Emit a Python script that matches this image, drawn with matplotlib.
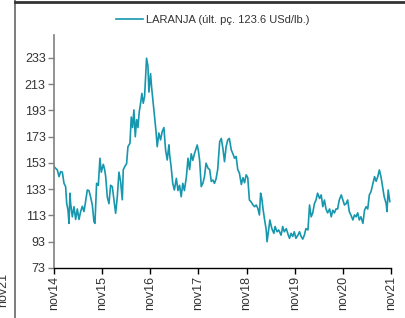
import matplotlib.pyplot as plt
from matplotlib.lines import Line2D

plt.rcParams['font.family'] = ['Liberation Sans', 'DejaVu Sans']

# months elapsed since nov/2014 and price (USd/lb.)
months = [0.0, 0.83, 1.25, 1.66, 2.08, 2.49, 2.9, 3.16, 3.49, 3.74, 3.98, 4.15, 4.57, 4.98,
          5.4, 5.81, 6.23, 6.64, 7.06, 7.47, 7.89, 8.3, 8.72, 9.13, 9.55, 9.96, 10.21, 10.62,
          11.04, 11.45, 11.79, 12.29, 12.62, 12.87, 13.29, 13.7, 14.11, 14.53, 14.94, 15.36,
          15.77, 16.19, 16.6, 17.02, 17.27, 17.6, 18.1, 18.43, 18.93, 19.26, 19.59, 19.92,
          20.26, 20.59, 20.92, 21.25, 21.58, 21.91, 22.24, 22.58, 22.82, 23.07, 23.41, 23.66,
          24.07, 24.32, 24.65, 25.07, 25.4, 25.73, 26.15, 26.56, 26.98, 27.39, 27.81, 28.22,
          28.64, 28.8, 29.2, 29.6, 30.0, 30.5, 30.9, 31.3, 31.7, 32.1, 32.5, 33.0, 33.4, 33.8,
          34.2, 34.6, 35.0, 35.7, 36.0, 36.3, 36.7, 37.1, 37.5, 37.9, 38.4, 38.8, 39.2, 39.6,
          40.0, 40.4, 40.8, 41.3, 41.7, 42.1, 42.5, 42.9, 43.3, 43.7, 44.2, 44.6, 45.0, 45.4,
          45.8, 46.2, 46.7, 47.1, 47.5, 47.9, 48.3, 48.7, 49.1, 49.6, 50.0, 50.4, 50.8, 51.2,
          51.5, 51.8, 52.1, 52.5, 52.9, 53.1, 53.5, 53.8, 54.3, 54.8, 55.1, 55.6, 56.0, 56.6,
          57.0, 57.4, 57.9, 58.4, 58.7, 59.1, 59.5, 59.9, 60.3, 60.8, 61.2, 61.6, 62.0, 62.4,
          62.8, 63.3, 63.7, 64.1, 64.5, 64.9, 65.3, 65.7, 66.2, 66.6, 67.0, 67.4, 67.8, 68.2,
          68.7, 69.1, 69.5, 69.9, 70.3, 70.7, 71.1, 71.6, 72.0, 72.4, 72.8, 73.2, 73.6, 74.0,
          74.5, 74.9, 75.3, 75.7, 76.1, 76.5, 77.0, 77.4, 77.8, 78.2, 78.6, 79.0, 79.4, 79.9,
          80.3, 80.7, 81.1, 81.5, 81.9, 82.3, 82.8, 83.0, 83.3, 83.7]
price = [150.2, 147.7, 142.6, 146.4, 146.0, 137.5, 135.0, 122.3, 117.0, 107.0, 130.0, 122.0,
         112.0, 119.7, 110.0, 118.0, 110.0, 116.0, 120.0, 116.0, 124.0, 132.4, 132.0, 127.0,
         121.0, 108.3, 107.0, 137.5, 136.0, 156.6, 146.0, 152.0, 148.0, 143.0, 127.0, 122.0,
         136.0, 135.0, 125.0, 114.7, 127.0, 146.0, 139.0, 125.0, 148.0, 150.0, 152.6, 165.4,
         168.0, 188.0, 180.0, 193.4, 173.0, 186.0, 180.0, 192.0, 198.5, 206.0, 198.5, 203.7,
         218.8, 232.8, 227.0, 207.0, 221.0, 211.0, 201.0, 188.0, 178.0, 165.4, 175.8, 170.6,
         177.0, 180.0, 163.0, 155.3, 166.8, 160.0, 150.0, 137.5, 132.4, 141.3, 132.0, 136.0,
         127.3, 137.5, 132.0, 142.5, 156.6, 148.0, 160.0, 155.0, 160.0, 166.7, 162.0, 155.0,
         135.0, 137.5, 142.5, 152.8, 149.0, 148.0, 139.0, 140.0, 137.5, 141.0, 148.0, 169.2,
         171.7, 164.0, 154.0, 165.4, 170.5, 171.7, 162.8, 160.0, 156.6, 158.0, 148.0, 145.5,
         136.6, 141.8, 138.0, 144.0, 141.8, 124.8, 123.5, 121.0, 119.7, 121.0, 118.5, 113.4,
         130.0, 126.0, 118.0, 109.6, 102.0, 93.0, 102.0, 109.6, 103.0, 99.4, 104.6, 100.6,
         102.0, 98.0, 104.6, 100.6, 103.0, 98.0, 95.6, 99.4, 97.0, 100.6, 95.6, 98.0, 100.6,
         97.0, 95.0, 98.0, 103.0, 102.0, 121.0, 112.0, 115.0, 122.0, 124.8, 130.0, 126.0,
         128.7, 119.7, 124.8, 118.0, 115.0, 118.0, 112.0, 117.0, 115.0, 118.0, 118.0, 124.8,
         128.7, 124.8, 121.0, 122.0, 124.8, 116.0, 113.4, 109.6, 113.4, 112.0, 115.0, 109.6,
         112.0, 107.0, 117.0, 119.7, 118.0, 128.7, 131.0, 136.2, 142.6, 139.0, 142.6, 147.7,
         142.6, 135.0, 127.3, 122.0, 116.0, 132.4, 123.6]

xticks = [0, 12, 24, 36, 48, 60, 72, 84]
xlabels = ['nov14', 'nov15', 'nov16', 'nov17', 'nov18', 'nov19', 'nov20', 'nov21']
yticks = [73, 93, 113, 133, 153, 173, 193, 213, 233]
line_color = '#1697ae'
label = 'LARANJA (últ. pç. 123.6 USd/lb.)'

fig = plt.figure(figsize=(4.06, 3.18), dpi=100)
ax = fig.add_axes([54 / 406, 1 - 268 / 318, (391 - 54) / 406, (268 - 35) / 318])

ax.plot(months, price, color=line_color, lw=1.2)

ax.set_xlim(0, 84)
ax.set_ylim(73, 250.5)
ax.set_xticks(xticks)
ax.set_xticklabels(xlabels, rotation=90)
ax.set_yticks(yticks)

for s in ['top', 'right']:
    ax.spines[s].set_visible(False)
ax.spines['left'].set_color('#808080')
ax.spines['left'].set_linewidth(1.2)
ax.spines['bottom'].set_color('black')
ax.spines['bottom'].set_linewidth(1.0)
ax.tick_params(axis='y', colors='#808080', length=4, width=1, labelcolor='#333333',
               labelsize=9, pad=2)
ax.tick_params(axis='x', colors='black', length=4, width=1, labelcolor='#333333',
               labelsize=9, pad=2)

handle = Line2D([], [], color=line_color, lw=1.2)
fig.legend([handle], [label], loc='center', bbox_to_anchor=(213 / 406, 1 - 20 / 318),
           frameon=False, fontsize=8, handlelength=2.4, handletextpad=0.3,
           labelcolor='#333333')

# page frame left over from the report layout (neighbouring chart's label is clipped)
fig.add_artist(Line2D([15 / 406, 15 / 406], [0, 1], color='#666666', lw=1.2))
fig.add_artist(Line2D([15 / 406, 1], [1 - 2 / 318, 1 - 2 / 318], color='#333333', lw=2))
fig.text(9 / 406, 1 - 290 / 318, 'nov21', rotation=90, ha='right', va='center',
         fontsize=9, color='#333333')

fig.savefig('out.png', dpi=100)
